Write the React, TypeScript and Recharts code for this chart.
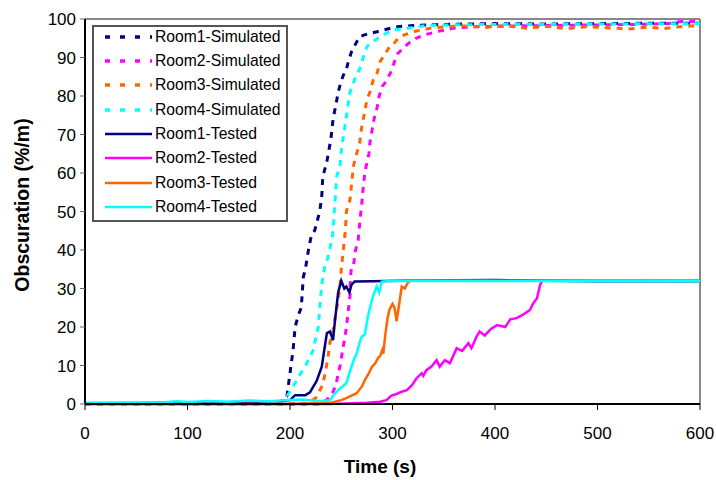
import React from 'react';
import { LineChart, Line, XAxis, YAxis, Legend, ReferenceLine } from 'recharts';

// [time (s), obscuration (%/m)]
const room1Sim: [number, number][] = [
  [0, 0], [190, 0.3], [197, 2], [200, 8], [203, 14], [205, 20], [208, 23], [211, 25], [213, 33],
  [215, 35], [218, 40], [221, 44], [224, 45], [226, 47], [229, 50], [231, 54], [232, 59], [234, 61],
  [236, 63], [238, 66], [240, 69], [242, 74], [245, 78], [247, 81], [250, 84], [253, 86], [255, 87],
  [257, 89], [260, 91.5], [263, 93], [266, 94.5], [268, 95.4], [272, 95.8], [277, 96.2], [285, 96.7],
  [292, 97.2], [298, 97.6], [305, 98], [320, 98.3], [350, 98.6], [400, 98.8], [450, 98.7], [500, 98.8],
  [550, 98.9], [600, 98.9],
];

const room2Sim: [number, number][] = [
  [0, 0], [230, 0], [240, 2], [245, 5], [247, 8], [249, 10], [250.5, 12.5], [252, 15], [254, 18],
  [255.5, 21], [257, 24.5], [258.5, 28], [259, 33], [260, 35.5], [262, 36], [263.5, 39.5], [266.5, 42.5],
  [268, 47], [270, 52], [271.5, 56.5], [273, 60], [274.5, 62], [277, 65], [278, 68], [280, 71], [282, 74],
  [285, 77], [287, 80], [290, 82.5], [293, 83.5], [296, 85], [299, 86.5], [302, 89], [305, 91], [310, 92.3],
  [317, 94], [323, 95], [330, 95.8], [343, 96.7], [359, 97.6], [380, 98], [420, 98.2], [480, 98.4],
  [540, 98.6], [570, 98.8], [575, 99.3], [600, 99.4],
];

const room3Sim: [number, number][] = [
  [0, 0], [215, 0], [225, 1.5], [232, 5], [235, 9], [237, 12], [239, 16], [242, 19], [245, 24], [247, 27],
  [249, 31], [250, 35], [252, 40], [254, 45], [255, 50], [258.5, 53], [260, 57], [262, 62], [265, 65],
  [268, 68], [270, 72], [273, 76], [275, 79], [278, 81], [281, 84], [285, 86], [288, 89], [293, 91],
  [297, 92.8], [301, 93.5], [304, 94.5], [307, 95.4], [313, 96], [320, 96.7], [337, 97.6], [353, 98],
  [370, 98.2], [390, 97.8], [410, 98.3], [430, 97.6], [450, 98.1], [470, 97.5], [490, 98], [510, 97.7],
  [530, 97.4], [550, 97.9], [565, 97.5], [580, 98], [600, 98.3],
];

const room4Sim: [number, number][] = [
  [0, 0], [190, 0.5], [197, 2], [203, 4.5], [208, 7], [214.6, 9.7], [219, 12], [222.7, 14], [225, 17],
  [227.6, 20], [229, 25], [231, 31], [234, 36], [237, 38], [240.7, 42.6], [242, 45], [243, 49], [244, 53],
  [245.5, 59], [248.8, 62], [250.4, 66.8], [253, 71], [255, 74.6], [258.5, 81], [263.4, 84.6], [268, 87],
  [271.5, 90], [275, 92.8], [279, 93.8], [283, 94.5], [288, 95.4], [294, 96.3], [297.5, 96.7], [304, 97.3],
  [314, 97.6], [336, 98.4], [400, 98.6], [500, 98.7], [600, 98.8],
];

const room1Test: [number, number][] = [
  [0, 0.2], [100, 0.3], [150, 0.5], [190, 0.8], [200, 1], [205, 2.3], [215, 2.3], [219.5, 3], [226, 6],
  [231, 9.7], [234, 15], [236, 18.4], [239, 18.8], [242, 16.6], [244, 22], [247, 29], [250, 32], [253, 30],
  [255, 30.5], [258, 29], [260, 31], [263, 31.8], [280, 31.9], [320, 32.1], [400, 32.2], [450, 32],
  [500, 31.9], [600, 31.9],
];

const room2Test: [number, number][] = [
  [0, 0], [240, 0], [260, 0.2], [275, 0.3], [288, 0.6], [294, 1], [299, 2.2], [304, 2.6], [309, 3.2],
  [314, 3.6], [319, 4.9], [323.5, 6.7], [328.5, 8], [330, 7.3], [333, 8.8], [338, 9.7], [343, 11.4],
  [346, 9.7], [351, 11.4], [356, 10.6], [362.6, 14.5], [368, 13.8], [374, 15.8], [377, 14.5], [382, 17.5],
  [385, 18.8], [390, 17.8], [396, 19.5], [402, 20.5], [410, 20], [415, 22], [421, 22.3], [426, 23],
  [434, 24.4], [437, 26], [441, 27.5], [444, 31], [446, 32], [500, 32], [600, 32],
];

const room3Test: [number, number][] = [
  [0, 0], [200, 0], [239, 0.3], [250, 1], [255, 1.5], [265, 2.8], [270, 4.5], [273, 6.2], [277, 8],
  [280, 9.7], [283, 10.5], [286, 12], [288, 12.5], [290, 14], [291, 13], [293, 18], [295, 22], [297, 24.5],
  [300, 26], [302, 25], [304, 21.5], [306, 25], [309, 30.5], [312, 30], [315, 31.5], [318, 32], [600, 32],
];

const room4Test: [number, number][] = [
  [0, 0.3], [75, 0.4], [90, 0.7], [100, 0.5], [120, 0.8], [140, 0.6], [160, 0.9], [180, 0.7], [195, 1],
  [210, 1.2], [229, 0.8], [239, 1], [243, 2.5], [247, 3.6], [251, 4.5], [255, 5.4], [258, 8], [260, 9.7],
  [263, 12], [265, 13], [268, 16], [270, 17.5], [273, 18], [276, 22.7], [278, 25], [281, 28], [284.5, 30.5],
  [287, 29], [289.5, 31.8], [300, 32], [600, 31.9],
];

const xTicks = [0, 100, 200, 300, 400, 500, 600];
const yTicks = [0, 10, 20, 30, 40, 50, 60, 70, 80, 90, 100];

const NAVY = '#000080';
const MAGENTA = '#FF00FF';
const ORANGE = '#FF6600';
const CYAN = '#00FFFF';
const FONT = '"Liberation Sans", Arial, sans-serif';

const toPoints = (arr: [number, number][]) => arr.map(([t, v]) => ({ t, v }));

const series = [
  { name: 'Room1-Simulated', data: room1Sim, color: NAVY, dashed: true },
  { name: 'Room2-Simulated', data: room2Sim, color: MAGENTA, dashed: true },
  { name: 'Room3-Simulated', data: room3Sim, color: ORANGE, dashed: true },
  { name: 'Room4-Simulated', data: room4Sim, color: CYAN, dashed: true },
  { name: 'Room1-Tested', data: room1Test, color: NAVY, dashed: false },
  { name: 'Room2-Tested', data: room2Test, color: MAGENTA, dashed: false },
  { name: 'Room3-Tested', data: room3Test, color: ORANGE, dashed: false },
  { name: 'Room4-Tested', data: room4Test, color: CYAN, dashed: false },
];

function LegendBox() {
  return (
    <div
      style={{
        position: 'relative',
        width: 196,
        height: 197,
        boxSizing: 'border-box',
        border: '2px solid #555',
        background: '#fff',
        fontFamily: FONT,
        fontSize: 15.7,
        color: '#000',
      }}
    >
      {series.map((s, i) => {
        const center = 11.7 + i * 24.3 - 2;
        return (
          <div key={s.name} style={{ position: 'absolute', left: 0, top: center - 10, height: 20, width: 190 }}>
            <svg width={60} height={20} style={{ position: 'absolute', left: 0, top: 0 }}>
              <line
                x1={11}
                y1={10}
                x2={58}
                y2={10}
                stroke={s.color}
                strokeWidth={s.dashed ? 3.5 : 2.5}
                strokeDasharray={s.dashed ? '5 10' : undefined}
              />
            </svg>
            <span style={{ position: 'absolute', left: 61, top: 10, transform: 'translateY(-50%)', whiteSpace: 'nowrap', lineHeight: 1 }}>
              {s.name}
            </span>
          </div>
        );
      })}
    </div>
  );
}

export default function App() {
  const tickStyle = { fontSize: 17, fill: '#000', fontFamily: FONT };
  return (
    <div style={{ position: 'absolute', left: 0, top: 0, width: 716, height: 480, background: '#fff' }}>
      <LineChart width={716} height={480} margin={{ top: 19, right: 16, bottom: 0, left: 0 }}>
        <XAxis
          dataKey="t"
          type="number"
          domain={[0, 600]}
          ticks={xTicks}
          height={76}
          tick={tickStyle}
          tickSize={6}
          tickMargin={17}
          tickLine={{ stroke: '#000' }}
          axisLine={{ stroke: '#000', strokeWidth: 2 }}
          label={{
            value: 'Time (s)',
            content: () => (
              <text x={380} y={466} textAnchor="middle" dominantBaseline="central" fontFamily={FONT} fontWeight="bold" fontSize={19} fill="#000">
                Time (s)
              </text>
            ),
          }}
        />
        <YAxis
          type="number"
          domain={[0, 100]}
          ticks={yTicks}
          width={85}
          tick={tickStyle}
          tickSize={5}
          tickMargin={4}
          tickLine={{ stroke: '#666' }}
          axisLine={{ stroke: '#000', strokeWidth: 2 }}
          label={{
            value: 'Obscuration (%/m)',
            content: () => (
              <text
                x={22}
                y={205}
                transform="rotate(-90 22 205)"
                textAnchor="middle"
                dominantBaseline="central"
                fontFamily={FONT}
                fontWeight="bold"
                fontSize={19.5}
                fill="#000"
              >
                Obscuration (%/m)
              </text>
            ),
          }}
        />
        <ReferenceLine y={100} stroke="#888" strokeWidth={2} />
        <ReferenceLine x={600} stroke="#888" strokeWidth={2} />
        {series.map((s) => (
          <Line
            key={s.name}
            name={s.name}
            data={toPoints(s.data)}
            dataKey="v"
            type="linear"
            stroke={s.color}
            strokeWidth={s.dashed ? 3 : 2.5}
            strokeDasharray={s.dashed ? '6 6' : undefined}
            dot={false}
            activeDot={false}
            isAnimationActive={false}
          />
        ))}
        <Legend
          layout="horizontal"
          verticalAlign="middle"
          align="center"
          content={() => <LegendBox />}
          wrapperStyle={{ left: 92, top: 25, width: 196, height: 197 }}
        />
      </LineChart>
    </div>
  );
}
